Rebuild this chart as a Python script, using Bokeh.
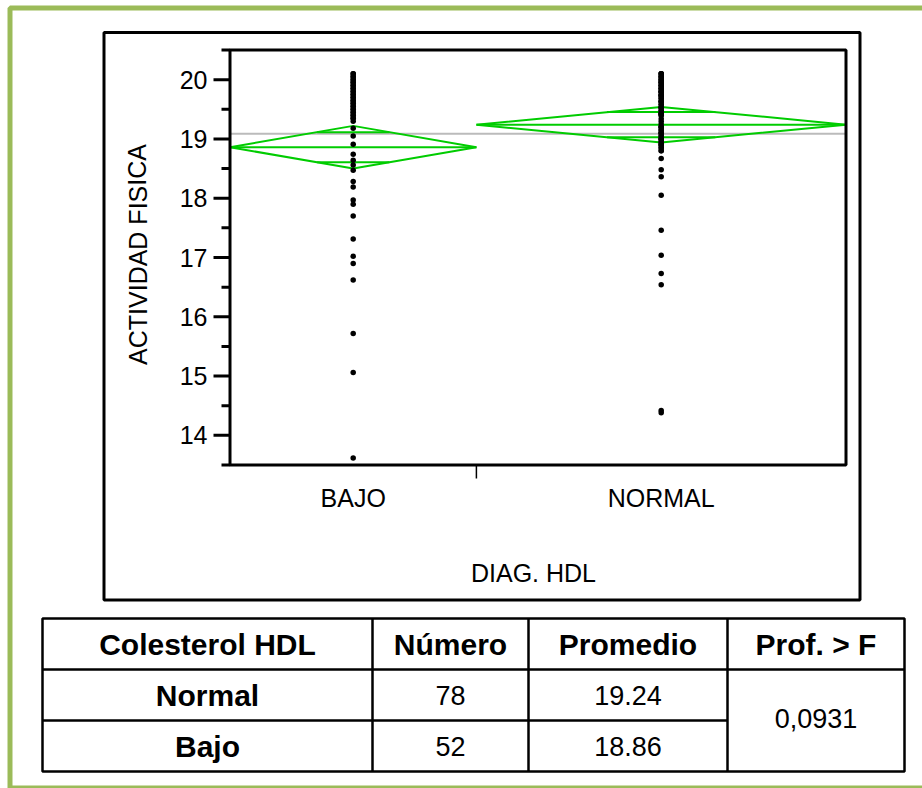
import math
from bokeh.plotting import figure
from bokeh.models import Range1d
from bokeh.embed import file_html
from bokeh.resources import INLINE
from bokeh.core.properties import value

# ---------------- data ----------------
groups = ["BAJO", "NORMAL"]
group_n = [52, 78]
group_means = [18.86, 19.24]
ci_half = [0.36, 0.30]

bajo_values = [
    20.10, 20.05, 20.00, 19.95, 19.90, 19.85, 19.80, 19.75, 19.70, 19.65,
    19.60, 19.55, 19.50, 19.45, 19.40, 19.35, 19.30,
    20.10, 20.00, 19.90, 19.80, 19.70, 19.60, 19.50, 19.40, 20.05, 19.95,
    19.85, 19.75, 19.65, 19.55, 19.45, 19.35,
    19.18, 19.05, 18.91, 18.74, 18.64, 18.56, 18.47, 18.28, 18.19, 17.97,
    17.90, 17.70, 17.31, 17.02, 16.90, 16.62, 15.72, 15.06, 13.62,
]
normal_values = [
    20.10, 20.05, 20.00, 19.95, 19.90, 19.85, 19.80,
    20.10, 20.05, 20.00, 19.95, 19.90, 19.85, 19.80,
    20.10, 20.00, 19.90, 19.80, 20.05, 19.95, 19.85,
    19.73, 19.68, 19.63, 19.58, 19.53, 19.48, 19.43, 19.40,
    19.73, 19.68, 19.63, 19.58, 19.53, 19.48, 19.43, 19.40,
    19.73, 19.63, 19.53, 19.43,
    19.34,
    19.20, 19.15, 19.10, 19.05, 19.00, 18.95, 18.90, 18.85, 18.80,
    19.20, 19.15, 19.10, 19.05, 19.00, 18.95, 18.90, 18.85, 18.80,
    19.20, 19.10, 19.00, 18.90,
    18.67, 18.48, 18.36, 18.05, 17.46, 17.04, 16.73, 16.54, 14.42, 14.38,
    19.25, 19.30, 19.75, 19.78,
]
y_ticks = [14, 15, 16, 17, 18, 19, 20]
y_minor = [13.5, 14.5, 15.5, 16.5, 17.5, 18.5, 19.5, 20.5]
y_axis_label = "ACTIVIDAD FISICA"
x_axis_label = "DIAG. HDL"

table_header = ["Colesterol HDL", "Número", "Promedio", "Prof. > F"]
table_rows = ["Normal", "Bajo"]
table_numbers = ["78", "52"]
table_means = ["19.24", "18.86"]
table_p = "0,0931"

# ---------------- layout constants ----------------
W, H = 922, 788
FRAME_L, FRAME_R, FRAME_T, FRAME_B = 229.5, 845.5, 49.5, 464.5
Y_MIN, Y_MAX = 13.5, 20.5
N_TOT = sum(group_n)
FONT = value("Liberation Sans")
GREEN = "#00CC00"
AX_FS = "25px"

kx = (FRAME_R - FRAME_L) / N_TOT
ky = (FRAME_B - FRAME_T) / (Y_MAX - Y_MIN)

p = figure(width=W, height=H, output_backend="svg", toolbar_location=None,
           x_range=Range1d(0, W), y_range=Range1d(H, 0),
           x_axis_location=None, y_axis_location=None,
           min_border=0, min_border_left=0, min_border_right=0,
           min_border_top=0, min_border_bottom=0,
           outline_line_color=None, background_fill_color="white",
           border_fill_color="white")
p.grid.visible = False
p.extra_x_ranges = {"cx": Range1d(-FRAME_L / kx, N_TOT + (W - FRAME_R) / kx)}
p.extra_y_ranges = {"cy": Range1d(Y_MIN - (H - FRAME_B) / ky, Y_MAX + FRAME_T / ky)}

# green page border and outer black box
p.quad(left=[9.5], right=[W + 20], top=[7.5], bottom=[787.5],
       fill_color=None, line_color="#9BBB59", line_width=5)
p.quad(left=[103.5], right=[859.5], top=[32], bottom=[599.5],
       fill_color=None, line_color="black", line_width=3)

# ---------------- chart ----------------
starts = [sum(group_n[:i]) for i in range(len(group_n))]
centers = [s + n / 2 for s, n in zip(starts, group_n)]
grand_mean = sum(m * n for m, n in zip(group_means, group_n)) / N_TOT

p.segment(x0=[0], x1=[N_TOT], y0=[grand_mean], y1=[grand_mean],
          x_range_name="cx", y_range_name="cy", line_color="#BBBBBB", line_width=2)

d_xs, d_ys, seg_x0, seg_x1, seg_y = [], [], [], [], []
for s, n, c, m, h in zip(starts, group_n, centers, group_means, ci_half):
    d_xs.append([s, c, s + n, c, s])
    d_ys.append([m, m + h, m, m - h, m])
    seg_x0.append(s); seg_x1.append(s + n); seg_y.append(m)
    off = h / math.sqrt(2)
    hw = (1 - 1 / math.sqrt(2)) * n / 2
    for sign in (1, -1):
        seg_x0.append(c - hw); seg_x1.append(c + hw); seg_y.append(m + sign * off)
p.multi_line(xs=d_xs, ys=d_ys, x_range_name="cx", y_range_name="cy",
             line_color=GREEN, line_width=2)
p.segment(x0=seg_x0, x1=seg_x1, y0=seg_y, y1=seg_y, x_range_name="cx",
          y_range_name="cy", line_color=GREEN, line_width=2)

px = [centers[0]] * len(bajo_values) + [centers[1]] * len(normal_values)
py = bajo_values + normal_values
p.scatter(x=px, y=py, x_range_name="cx", y_range_name="cy", size=5.5,
          marker="circle", fill_color="black", line_color=None)

# plot frame
p.quad(left=[0], right=[N_TOT], bottom=[Y_MIN], top=[Y_MAX], x_range_name="cx",
       y_range_name="cy", fill_color=None, line_color="black", line_width=3)

# y axis ticks and labels
p.segment(x0=[213] * len(y_ticks), x1=[FRAME_L] * len(y_ticks), y0=y_ticks, y1=y_ticks,
          y_range_name="cy", line_color="black", line_width=3)
p.segment(x0=[221] * len(y_minor), x1=[FRAME_L] * len(y_minor), y0=y_minor, y1=y_minor,
          y_range_name="cy", line_color="black", line_width=3)
p.text(x=[207] * len(y_ticks), y=y_ticks, text=[str(t) for t in y_ticks],
       y_range_name="cy", text_align="right", text_baseline="middle",
       text_font=FONT, text_font_size=AX_FS, text_color="black")

# x axis separator and labels
p.segment(x0=[group_n[0]], x1=[group_n[0]], y0=[FRAME_B], y1=[478],
          x_range_name="cx", line_color="black", line_width=1.5)
p.text(x=centers, y=[497] * len(groups), text=groups, x_range_name="cx",
       text_align="center", text_baseline="middle",
       text_font=FONT, text_font_size=AX_FS, text_color="black")

p.text(x=[533], y=[572], text=[x_axis_label], text_align="center",
       text_baseline="middle", text_font=FONT, text_font_size=AX_FS, text_color="black")
p.text(x=[137], y=[254], text=[y_axis_label], angle=[math.pi / 2], text_align="center",
       text_baseline="middle", text_font=FONT, text_font_size=AX_FS, text_color="black")

# ---------------- table ----------------
col_edges = [42, 372, 528, 727, 904]
row_edges = [618, 669, 720, 771]
p.quad(left=[col_edges[0]], right=[col_edges[-1]], top=[row_edges[0]], bottom=[row_edges[-1]],
       fill_color=None, line_color="black", line_width=2.5)
p.segment(x0=col_edges[1:-1], x1=col_edges[1:-1], y0=[row_edges[0]] * 3, y1=[row_edges[-1]] * 3,
          line_color="black", line_width=2.5)
p.segment(x0=[col_edges[0], col_edges[0]], x1=[col_edges[-1], col_edges[3]],
          y0=[row_edges[1], row_edges[2]], y1=[row_edges[1], row_edges[2]],
          line_color="black", line_width=2.5)

col_c = [(a + b) / 2 for a, b in zip(col_edges[:-1], col_edges[1:])]
row_c = [(a + b) / 2 for a, b in zip(row_edges[:-1], row_edges[1:])]
p.text(x=col_c, y=[row_c[0]] * 4, text=table_header, text_align="center",
       text_baseline="middle", text_font=FONT, text_font_size="30px",
       text_font_style="bold", text_color="black")
p.text(x=[col_c[0]] * 2, y=row_c[1:], text=table_rows, text_align="center",
       text_baseline="middle", text_font=FONT, text_font_size="30px",
       text_font_style="bold", text_color="black")
p.text(x=[col_c[1]] * 2 + [col_c[2]] * 2, y=row_c[1:] + row_c[1:],
       text=table_numbers + table_means, text_align="center", text_baseline="middle",
       text_font=FONT, text_font_size="27px", text_color="black")
p.text(x=[col_c[3]], y=[row_edges[2] - 2], text=[table_p], text_align="center",
       text_baseline="middle", text_font=FONT, text_font_size="27px", text_color="black")

open("out.html", "w").write(file_html(p, INLINE))
